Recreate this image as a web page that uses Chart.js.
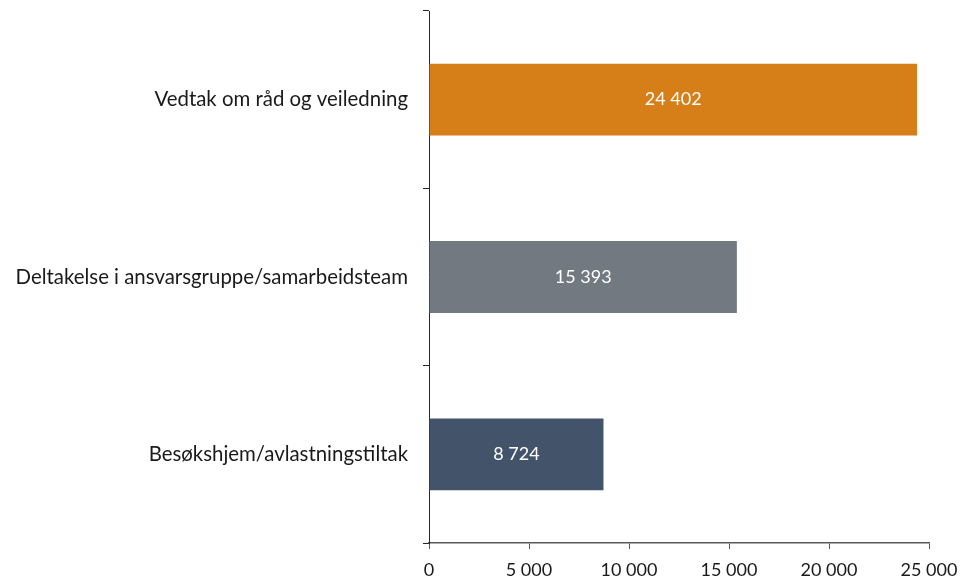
<!DOCTYPE html>
<html>
<head>
<meta charset="utf-8">
<script src="https://cdn.jsdelivr.net/npm/chart.js@4.4.1/dist/chart.umd.min.js"></script>
<style>
html,body{margin:0;padding:0;background:#fff;}
#wrap{width:962px;height:583px;position:relative;}
</style>
</head>
<body>
<div id="wrap"><canvas id="c" width="962" height="583"></canvas></div>
<script>
const categories = ["Vedtak om råd og veiledning", "Deltakelse i ansvarsgruppe/samarbeidsteam", "Besøkshjem/avlastningstiltak"];
const values = [24402, 15393, 8724];
const barColors = ["#D67E18", "#737980", "#43546A"];
const xTicks = [0, 5000, 10000, 15000, 20000, 25000];

const fmt = v => String(Math.round(v)).replace(/\B(?=(\d{3})+(?!\d))/g, " ");
const FONT = "Lato, 'DejaVu Sans', sans-serif";

const valueLabels = {
  id: 'valueLabels',
  afterDatasetsDraw(chart) {
    const ctx = chart.ctx;
    const meta = chart.getDatasetMeta(0);
    ctx.save();
    ctx.fillStyle = '#ffffff';
    ctx.font = "18px " + FONT;
    ctx.textAlign = 'center';
    ctx.textBaseline = 'middle';
    meta.data.forEach((bar, i) => {
      const p = bar.getProps(['x', 'y', 'base'], true);
      ctx.fillText(fmt(values[i]), (p.x + p.base) / 2, p.y);
    });
    ctx.restore();
  }
};

const noPad = s => { s.paddingTop = 0; s.paddingBottom = 0; s.paddingLeft = 0; s.paddingRight = 0; };

new Chart(document.getElementById('c'), {
  type: 'bar',
  data: {
    labels: categories,
    datasets: [{
      data: values,
      backgroundColor: barColors,
      borderWidth: 0,
      categoryPercentage: 1,
      barPercentage: 0.405
    }]
  },
  options: {
    indexAxis: 'y',
    responsive: false,
    animation: false,
    events: [],
    layout: { padding: { top: 11, right: 33, left: 0, bottom: 0 } },
    plugins: { legend: { display: false }, tooltip: { enabled: false } },
    scales: {
      x: {
        min: 0, max: 25000,
        afterBuildTicks: s => { s.ticks = xTicks.map(v => ({ value: v })); },
        afterFit: s => { s.height = 40; noPad(s); },
        border: { display: true, color: '#595959', width: 1.5 },
        grid: { drawOnChartArea: false, drawTicks: true, tickLength: 6, color: '#595959', lineWidth: 1 },
        ticks: { color: '#1a1a1a', font: { family: FONT, size: 18 }, padding: 10, maxRotation: 0, autoSkip: false, callback: v => fmt(v) }
      },
      y: {
        afterFit: s => { s.width = 429; noPad(s); },
        border: { display: true, color: '#262626', width: 1 },
        grid: { drawOnChartArea: false, drawTicks: true, tickLength: 6, color: '#262626', lineWidth: 1, offset: true },
        ticks: { color: '#1a1a1a', font: { family: FONT, size: 20.4 }, padding: 15 }
      }
    }
  },
  plugins: [valueLabels]
});
</script>
</body>
</html>
